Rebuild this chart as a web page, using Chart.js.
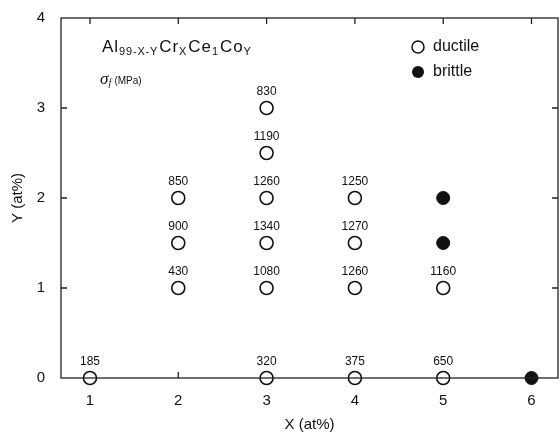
<!DOCTYPE html>
<html><head><meta charset="utf-8">
<script src="https://cdn.jsdelivr.net/npm/chart.js@4.4.0/dist/chart.umd.min.js"></script>
<style>html,body{margin:0;padding:0;background:#fff}#wrap{width:560px;height:438px}</style>
</head><body><div id="wrap"><canvas id="c" width="560" height="438"></canvas></div>
<script>
const ductileX = [1, 2, 2, 2, 3, 3, 3, 3, 3, 3, 4, 4, 4, 4, 5, 5];
const ductileY = [0, 1, 1.5, 2, 0, 1, 1.5, 2, 2.5, 3, 0, 1, 1.5, 2, 0, 1];
const ductileStrength = [185, 430, 900, 850, 320, 1080, 1340, 1260, 1190, 830, 375, 1260, 1270, 1250, 650, 1160];
const brittleX = [5, 5, 6];
const brittleY = [1.5, 2, 0];
const xTicks = [1, 2, 3, 4, 5, 6];
const yTicks = [0, 1, 2, 3, 4];

const FONT = '"Liberation Sans", Arial, sans-serif';

const deco = {
  id: 'deco',
  afterDatasetsDraw(chart) {
    const ctx = chart.ctx, a = chart.chartArea;
    const xs = chart.scales.x, ys = chart.scales.y;
    ctx.save();
    ctx.strokeStyle = '#222'; ctx.lineWidth = 1.3;
    ctx.strokeRect(a.left, a.top, a.right - a.left, a.bottom - a.top);
    ctx.beginPath();
    xTicks.forEach(v => { const px = xs.getPixelForValue(v); ctx.moveTo(px, a.top); ctx.lineTo(px, a.top + 6); });
    [2].forEach(v => { const px = xs.getPixelForValue(v); ctx.moveTo(px, a.bottom); ctx.lineTo(px, a.bottom - 6); });
    [1, 2, 3].forEach(v => { const py = ys.getPixelForValue(v); ctx.moveTo(a.left, py); ctx.lineTo(a.left + 6, py); ctx.moveTo(a.right, py); ctx.lineTo(a.right - 6, py); });
    ctx.stroke();
    ctx.fillStyle = '#111'; ctx.font = '12px ' + FONT; ctx.textAlign = 'center'; ctx.textBaseline = 'middle';
    const meta = chart.getDatasetMeta(0);
    meta.data.forEach((pt, i) => { ctx.fillText(String(ductileStrength[i]), pt.x, pt.y - 16); });
    ctx.textAlign = 'left'; ctx.textBaseline = 'alphabetic';
    let x = 102; const yb = 52;
    const parts = [['Al', 0], ['99-X-Y', 1], ['Cr', 0], ['X', 1], ['Ce', 0], ['1', 1], ['Co', 0], ['Y', 1]];
    parts.forEach(([t, sub]) => {
      ctx.font = (sub ? '11px ' : '17px ') + FONT;
      ctx.letterSpacing = sub ? '0.8px' : '1px';
      ctx.fillText(t, x, yb + (sub ? 3 : 0));
      x += ctx.measureText(t).width + (sub ? 1 : 0);
    });
    ctx.letterSpacing = '0px';
    ctx.font = 'italic 17px "Liberation Serif", serif';
    ctx.fillText('σ', 100, 84);
    let sx = 100 + ctx.measureText('σ').width;
    ctx.font = 'italic 10px "Liberation Serif", serif';
    ctx.fillText('f', sx, 86);
    ctx.font = '10px ' + FONT;
    ctx.fillText('(MPa)', sx + 6, 84);
    ctx.lineWidth = 1.5; ctx.strokeStyle = '#111';
    ctx.beginPath(); ctx.arc(418, 47, 6, 0, Math.PI * 2); ctx.fillStyle = '#fff'; ctx.fill(); ctx.stroke();
    ctx.beginPath(); ctx.arc(418, 72, 6, 0, Math.PI * 2); ctx.fillStyle = '#111'; ctx.fill();
    ctx.fillStyle = '#111'; ctx.font = '16px ' + FONT; ctx.textBaseline = 'middle';
    ctx.fillText('ductile', 433, 47);
    ctx.fillText('brittle', 433, 72);
    ctx.restore();
  }
};

new Chart(document.getElementById('c'), {
  type: 'scatter',
  data: {
    datasets: [
      { label: 'ductile', data: ductileX.map((v, i) => ({ x: v, y: ductileY[i] })),
        pointRadius: 6.5, pointBackgroundColor: '#fff', pointBorderColor: '#111', pointBorderWidth: 1.6, clip: false },
      { label: 'brittle', data: brittleX.map((v, i) => ({ x: v, y: brittleY[i] })),
        pointRadius: 6.5, pointBackgroundColor: '#111', pointBorderColor: '#111', pointBorderWidth: 1, clip: false }
    ]
  },
  options: {
    responsive: false, animation: false,
    layout: { autoPadding: false, padding: { top: 18, right: 2, left: 9, bottom: 0 } },
    plugins: { legend: { display: false }, tooltip: { enabled: false } },
    scales: {
      x: {
        type: 'linear', min: 0.672, max: 6.30,
        afterBuildTicks: s => { s.ticks = xTicks.map(v => ({ value: v })); },
        afterFit: s => { s.height = 60; s.paddingLeft = 0; s.paddingRight = 0; },
        grid: { display: false, drawTicks: false }, border: { display: false },
        ticks: { color: '#111', font: { size: 15, family: FONT }, padding: 14 },
        title: { display: true, text: 'X (at%)', color: '#111', font: { size: 15, family: FONT }, padding: { top: 2 } }
      },
      y: {
        type: 'linear', min: 0, max: 4,
        afterBuildTicks: s => { s.ticks = yTicks.map(v => ({ value: v })); },
        afterFit: s => { s.width = 52; s.paddingTop = 0; s.paddingBottom = 0; },
        grid: { display: false, drawTicks: false }, border: { display: false },
        ticks: { color: '#111', font: { size: 15, family: FONT }, padding: 16 },
        title: { display: true, text: 'Y (at%)', color: '#111', font: { size: 15, family: FONT }, padding: { top: 0, bottom: 0 } }
      }
    }
  },
  plugins: [deco]
});
</script></body></html>
